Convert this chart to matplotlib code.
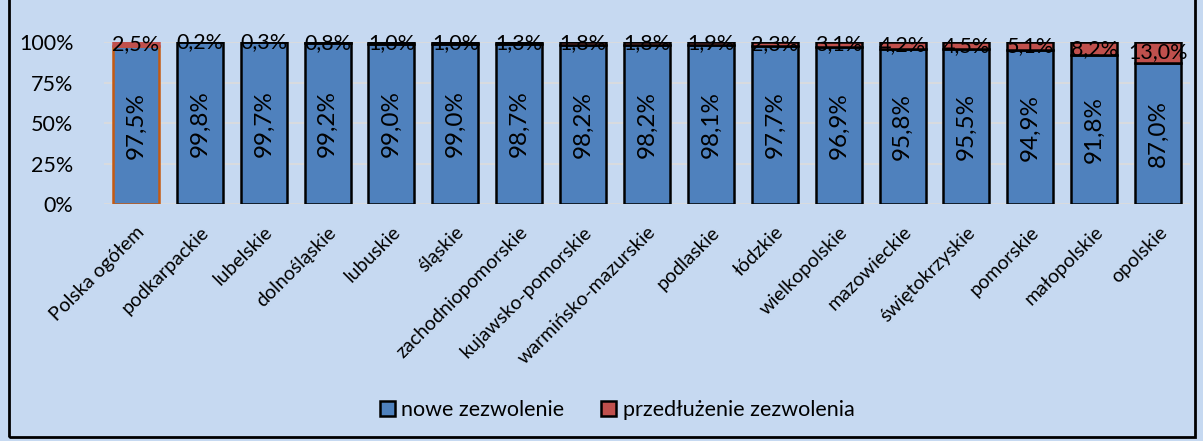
import matplotlib

matplotlib.use("Agg")

import matplotlib.pyplot as plt
from matplotlib.patches import Patch, Rectangle
from matplotlib.ticker import FuncFormatter

regions = [
    "Polska ogółem", "podkarpackie", "lubelskie", "dolnośląskie", "lubuskie",
    "śląskie", "zachodniopomorskie", "kujawsko-pomorskie", "warmińsko-mazurskie",
    "podlaskie", "łódzkie", "wielkopolskie", "mazowieckie", "świętokrzyskie",
    "pomorskie", "małopolskie", "opolskie",
]
new_permit = [97.5, 99.8, 99.7, 99.2, 99.0, 99.0, 98.7, 98.2, 98.2, 98.1,
              97.7, 96.9, 95.8, 95.5, 94.9, 91.8, 87.0]
extension = [2.5, 0.2, 0.3, 0.8, 1.0, 1.0, 1.3, 1.8, 1.8, 1.9,
             2.3, 3.1, 4.2, 4.5, 5.1, 8.2, 13.0]

BG = "#C6D9F1"
BLUE = "#4F81BD"
RED = "#C0504D"

plt.rcParams["font.family"] = ["Lato", "DejaVu Sans"]

fig = plt.figure(figsize=(12.03, 4.41), dpi=100, facecolor=BG)
ax = fig.add_axes([104 / 1203, 1 - 204 / 441, 1086 / 1203, 162 / 441])
ax.set_facecolor(BG)

x = range(len(regions))
blue_edges = ["#C55A11"] + ["black"] * (len(regions) - 1)
red_edges = ["#C0504D"] + ["black"] * (len(regions) - 1)
ax.bar(x, [v / 100 for v in new_permit], width=0.72, color=BLUE,
       edgecolor=blue_edges, linewidth=1.8, zorder=3)
ax.bar(x, [v / 100 for v in extension], width=0.72,
       bottom=[v / 100 for v in new_permit], color=RED,
       edgecolor=red_edges, linewidth=1.8, zorder=3)

for i, (n, e) in enumerate(zip(new_permit, extension)):
    ax.text(i, n / 200, f"{n:.1f}%".replace(".", ","), rotation=90,
            ha="center", va="center", fontsize=17.5, zorder=4)
    ax.text(i, (n + e / 2) / 100, f"{e:.1f}%".replace(".", ","),
            ha="center", va="center", fontsize=15.5, zorder=4)

ax.set_xlim(-0.5, len(regions) - 0.5)
ax.set_ylim(0, 1)
ax.set_yticks([0, 0.25, 0.5, 0.75, 1.0])
ax.yaxis.set_major_formatter(FuncFormatter(lambda v, _: f"{v:.0%}"))
ax.tick_params(axis="y", labelsize=15.5, length=0, pad=22)
ax.tick_params(axis="x", length=0, pad=14)
ax.set_xticks(list(x))
ax.set_xticklabels(regions, rotation=45, ha="right", va="top",
                   rotation_mode="anchor", fontsize=14)
ax.grid(axis="y", color="#DCDCDC", linewidth=1.2, zorder=0)
for s in ax.spines.values():
    s.set_visible(False)

handles = [
    Patch(facecolor=BLUE, edgecolor="black", linewidth=1.8, label="nowe zezwolenie"),
    Patch(facecolor=RED, edgecolor="black", linewidth=1.8, label="przedłużenie zezwolenia"),
]
fig.legend(handles=handles, loc="center", ncol=2,
           bbox_to_anchor=(617 / 1203, 1 - 410 / 441), frameon=False, fontsize=15.5,
           handlelength=0.7, handleheight=0.7, handletextpad=0.3, columnspacing=1.7)

fig.patches.append(Rectangle((9 / 1203, 4 / 441), 1186 / 1203, 1.1,
                             transform=fig.transFigure, fill=False,
                             edgecolor="black", linewidth=2))

fig.savefig("out.png", dpi=100, facecolor=BG)
